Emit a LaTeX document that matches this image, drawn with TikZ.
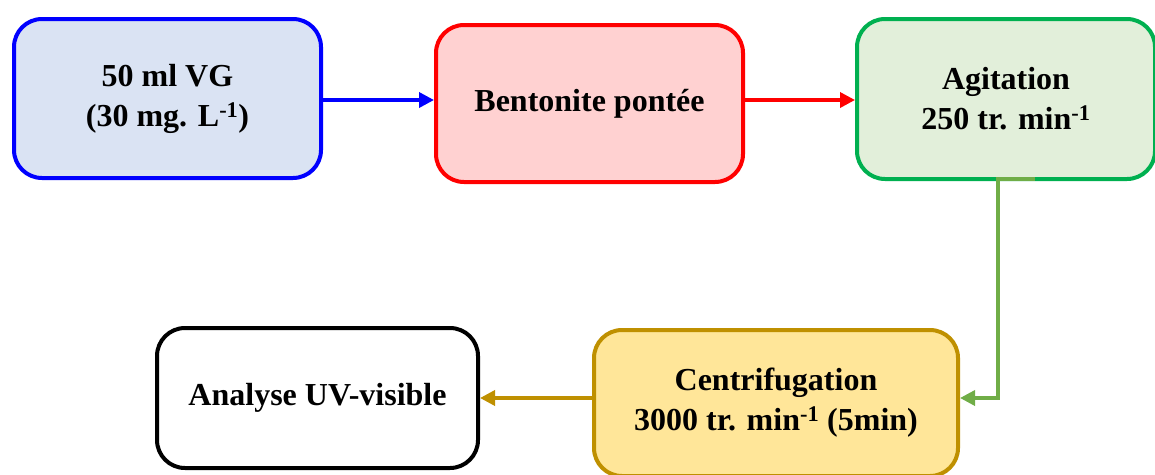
\documentclass[tikz,border=0pt]{standalone}
\usepackage{fontspec}
\setmainfont{Liberation Serif}
\usetikzlibrary{arrows.meta}
\definecolor{bluefill}{HTML}{DAE3F3}
\definecolor{redfill}{HTML}{FFD1D1}
\definecolor{greenfill}{HTML}{E2EFDA}
\definecolor{greenline}{HTML}{00B050}
\definecolor{greenarrow}{HTML}{70AD47}
\definecolor{goldfill}{HTML}{FFE699}
\definecolor{goldline}{HTML}{BF9000}
\tikzset{
  stepbox/.style={rectangle, rounded corners=28pt, line width=4pt, align=center,
    font=\fontsize{32}{40}\selectfont\bfseries, inner sep=0pt},
  flow/.style={line width=3.5pt, -{Triangle[length=15pt,width=15pt]}}
}
\begin{document}
\begin{tikzpicture}[x=1pt,y=-1pt]
\useasboundingbox (0,0) rectangle (1155,474);
\begin{scope}
\clip (0,0) rectangle (1155,474);
\node[stepbox, draw=blue, fill=bluefill, minimum width=307pt, minimum height=159pt]
  (vg) at (167.5,98.5) {50 ml VG\\ (30 mg. L\textsuperscript{-1})};
\node[stepbox, draw=red, fill=redfill, minimum width=307pt, minimum height=157pt]
  (bent) at (589.5,103.5) {Bentonite pontée};
\node[stepbox, draw=greenline, fill=greenfill, minimum width=298pt, minimum height=160pt]
  (agit) at (1006,99) {Agitation\\250 tr. min\textsuperscript{-1}};
\node[stepbox, draw=goldline, fill=goldfill, minimum width=364pt, minimum height=146pt]
  (centr) at (776,403) {Centrifugation\\3000 tr. min\textsuperscript{-1} (5min)};
\node[stepbox, draw=black, fill=white, minimum width=321pt, minimum height=140pt]
  (uv) at (317.5,398) {Analyse UV-visible};

% the green connector starts with a short run along the bottom border
\coordinate (agitstub) at ([xshift=29pt,yshift=2pt]agit.south);
\coordinate (agitdown) at ([xshift=-8pt,yshift=2pt]agit.south);

\draw[flow, blue] (vg.east |- 0,100) -- (bent.west |- 0,100);
\draw[flow, red] (bent.east |- 0,100) -- (agit.west |- 0,100);
\draw[flow, greenarrow] (agitstub) -- (agitdown) |- (centr.east |- uv.east);
\draw[flow, goldline] (centr.west |- uv.east) -- (uv.east);
\end{scope}
\end{tikzpicture}
\end{document}
